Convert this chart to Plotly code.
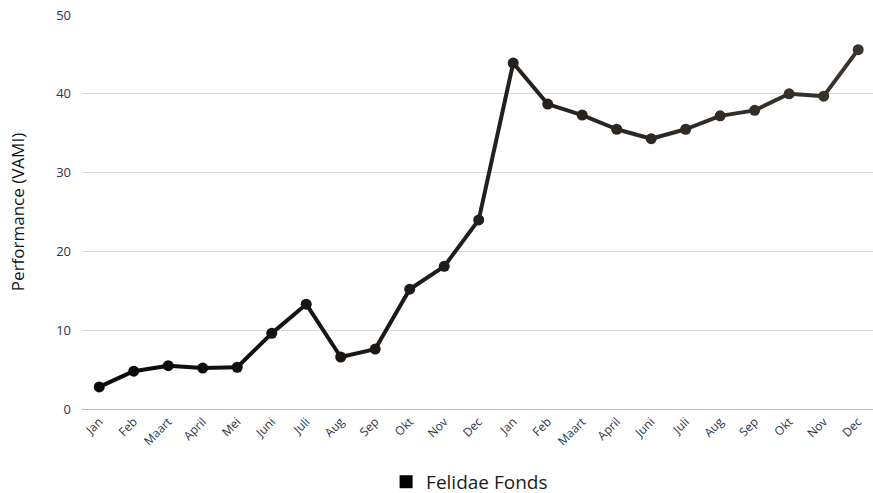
import plotly.graph_objects as go

months = ["Jan", "Feb", "Maart", "April", "Mei", "Juni", "Juli", "Aug", "Sep", "Okt", "Nov", "Dec",
          "Jan", "Feb", "Maart", "April", "Juni", "Juli", "Aug", "Sep", "Okt", "Nov", "Dec"]
values = [2.8, 4.8, 5.5, 5.2, 5.3, 9.6, 13.3, 6.6, 7.6, 15.2, 18.1, 24.0,
          43.9, 38.7, 37.3, 35.5, 34.3, 35.5, 37.2, 37.9, 40.0, 39.7, 45.6]
series_name = "Felidae Fonds"

xs = list(range(len(months)))
n = len(xs)

def blend(t):
    c0 = (10, 8, 8)
    c1 = (58, 52, 46)
    return "rgb(%d,%d,%d)" % tuple(round(a + (b - a) * t) for a, b in zip(c0, c1))

fig = go.Figure()
for i in range(n - 1):
    fig.add_trace(go.Scatter(
        x=[xs[i], xs[i + 1]], y=[values[i], values[i + 1]], mode="lines",
        line=dict(color=blend((i + 0.5) / (n - 1)), width=4),
        showlegend=False, hoverinfo="skip", cliponaxis=False))
fig.add_trace(go.Scatter(
    x=xs, y=values, mode="markers", cliponaxis=False,
    marker=dict(size=11, color=[blend(i / (n - 1)) for i in range(n)]),
    showlegend=False, name=series_name))
fig.add_trace(go.Scatter(
    x=[None], y=[None], mode="markers", name=series_name,
    marker=dict(symbol="square", size=13, color="#000000")))

fig.update_layout(
    width=873, height=493,
    margin=dict(l=82, r=0, t=15, b=84, autoexpand=False),
    plot_bgcolor="white", paper_bgcolor="white",
    font=dict(family="Open Sans", color="#2b3550"),
    showlegend=True,
    legend=dict(orientation="h", x=0.49, xanchor="center", y=-0.185, yanchor="middle",
                font=dict(size=19, color="#1a1a1a"), itemwidth=30),
    xaxis=dict(tickmode="array", tickvals=xs, ticktext=months, range=[-0.5, 22.43],
               tickangle=-45, tickfont=dict(size=12, color="#2b3550"),
               showgrid=False, showline=True, linecolor="#b8c0cc", linewidth=1,
               ticks="", zeroline=False, automargin=False),
    yaxis=dict(range=[0, 50], dtick=10, tickfont=dict(size=13, color="#2b3550"),
               gridcolor="#d9d9d9", gridwidth=1, zeroline=False, ticks="",
               ticklabelstandoff=10, automargin=False,
               title=dict(text="Performance (VAMI)", font=dict(size=17, color="#111111"),
                          standoff=27)),
)

fig.write_html("out.html", config={"displayModeBar": False},
               post_script="document.body.style.margin='0';document.body.style.overflow='hidden';")
